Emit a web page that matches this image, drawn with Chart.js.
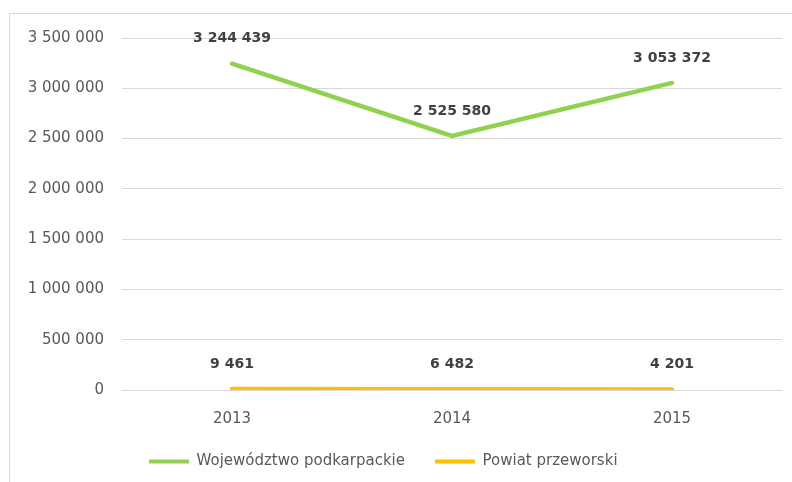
<!DOCTYPE html>
<html>
<head>
<meta charset="utf-8">
<script src="https://cdn.jsdelivr.net/npm/chart.js@4"></script>
<style>
  html, body { margin: 0; padding: 0; background: #fff; overflow: hidden; }
  #frame { position: absolute; left: 9px; top: 13px; width: 900px; height: 600px; border: 1px solid #d9d9d9; }
  #wrap { position: absolute; left: 0; top: 0; width: 792px; height: 482px; }
</style>
</head>
<body>
<div id="frame"></div>
<div id="wrap"><canvas id="chart"></canvas></div>
<script>
const years = ['2013', '2014', '2015'];
const wojewodztwo = [3244439, 2525580, 3053372];
const powiat = [9461, 6482, 4201];
const yTicksMax = 3500000;
const yTicksStep = 500000;

function formatNum(v) {
    return String(v).replace(/\B(?=(\d{3})+(?!\d))/g, ' ');
}

// values above each point
const valueLabels = {
    id: 'valueLabels',
    afterDatasetsDraw(chart) {
        const ctx = chart.ctx;
        ctx.save();
        ctx.font = 'bold 14px "DejaVu Sans"';
        ctx.fillStyle = '#404040';
        ctx.textAlign = 'center';
        ctx.textBaseline = 'middle';
        chart.data.datasets.forEach((ds, i) => {
            chart.getDatasetMeta(i).data.forEach((pt, j) => {
                ctx.fillText(formatNum(ds.data[j]), pt.x, pt.y - 25);
            });
        });
        ctx.restore();
    }
};

// move the legend where the original had it
const legendPlace = {
    id: 'legendPlace',
    afterLayout(chart) {
        const l = chart.legend;
        const p = l.options.labels.padding;
        const x0 = (l.left + p + l.right - l.lineWidths[0]) / 2;
        const dx = 149 - x0;
        const dy = 461 - (l.top + p + 7);
        l.left += dx; l.right += dx;
        l.top += dy; l.bottom += dy;
    }
};

const ctx = document.getElementById('chart').getContext('2d');
new Chart(ctx, {
    type: 'line',
    data: {
        labels: years,
        datasets: [
            {
                label: 'Województwo podkarpackie',
                data: wojewodztwo,
                borderColor: '#92D050',
                backgroundColor: '#92D050',
                borderWidth: 4.5,
                borderCapStyle: 'round',
                pointRadius: 0,
                tension: 0,
            },
            {
                label: 'Powiat przeworski',
                data: powiat,
                borderColor: '#FFC000',
                backgroundColor: '#FFC000',
                borderWidth: 4.5,
                borderCapStyle: 'round',
                pointRadius: 0,
                tension: 0,
            }
        ],
    },
    options: {
        responsive: true,
        maintainAspectRatio: false,
        animation: false,
        layout: { padding: { left: 24, top: 38, right: 10, bottom: 0 } },
        scales: {
            x: {
                offset: true,
                grid: { display: false },
                border: { display: false },
                ticks: { color: '#595959', font: { family: 'DejaVu Sans', size: 15 }, padding: 12 },
                afterFit(axis) { axis.height = 37; },
            },
            y: {
                min: 0,
                max: yTicksMax,
                grid: { color: '#d9d9d9', drawTicks: false },
                border: { display: false },
                ticks: {
                    stepSize: yTicksStep,
                    color: '#595959',
                    font: { family: 'DejaVu Sans', size: 15 },
                    padding: 18,
                    callback: v => formatNum(v),
                },
                afterFit(axis) { axis.width = 98; },
            },
        },
        plugins: {
            tooltip: { enabled: false },
            legend: {
                position: 'bottom',
                labels: {
                    boxWidth: 40,
                    boxHeight: 4,
                    padding: 30,
                    color: '#595959',
                    font: { family: 'DejaVu Sans', size: 15 },
                    generateLabels: chart => Chart.defaults.plugins.legend.labels.generateLabels(chart)
                        .map(item => Object.assign(item, { lineWidth: 0 })),
                },
            },
        },
    },
    plugins: [valueLabels, legendPlace],
});
</script>
</body>
</html>
